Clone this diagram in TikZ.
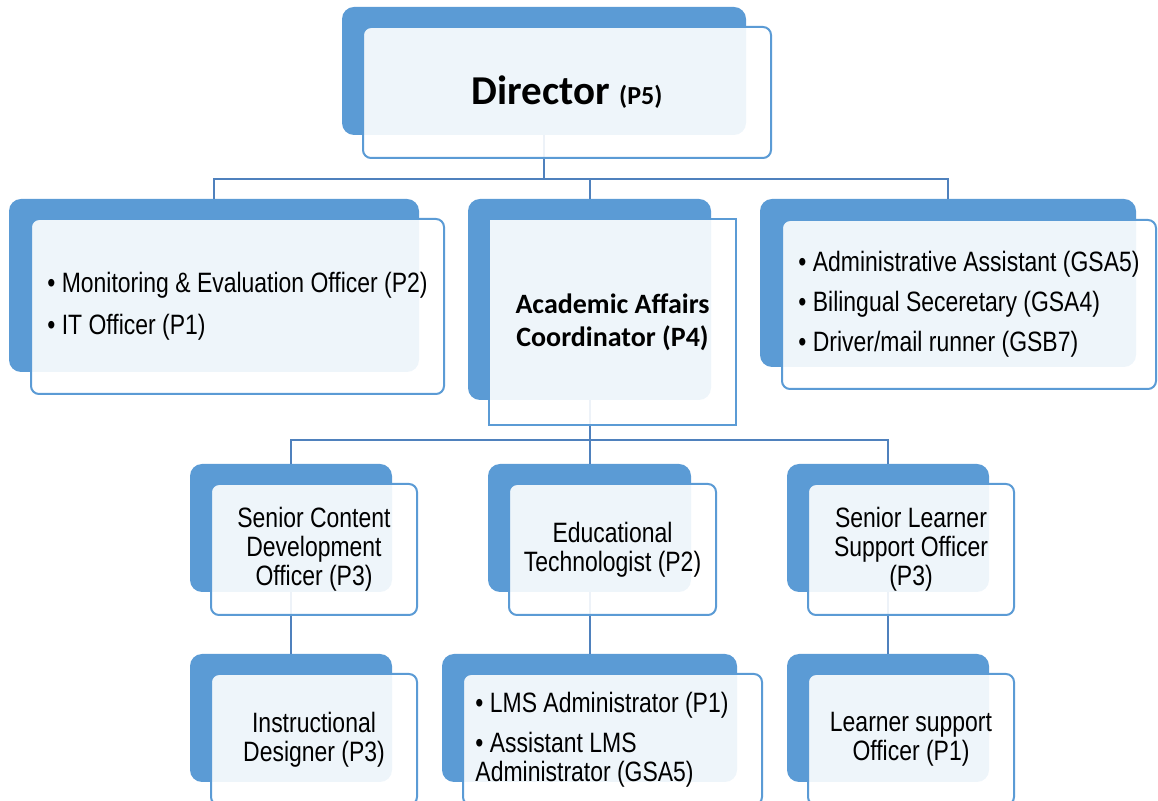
\documentclass[tikz,border=0pt]{standalone}
\usepackage{fontspec}
\setmainfont{Liberation Sans}[FakeStretch=0.82]
\newfontfamily\calib{Carlito}
\usepackage{tikz}
\usetikzlibrary{positioning}

\definecolor{boxblue}{HTML}{5B9BD5}
\definecolor{linkblue}{HTML}{4F81BD}

\tikzset{
	back/.style={rectangle,rounded corners=6pt,fill=boxblue,inner sep=0pt},
	front/.style={rectangle,rounded corners=4pt,draw=boxblue,line width=1pt,fill=white,fill opacity=0.9,text opacity=1,inner sep=0pt},
	link/.style={draw=linkblue,line width=1pt},
	upper/.style={font=\fontsize{14}{14}\selectfont},
	lower/.style={font=\fontsize{14}{14.5}\selectfont,align=center}
}

\begin{document}
\begin{tikzpicture}[x=0.5pt,y=-0.5pt]
		\useasboundingbox (0,0) rectangle (1158,801);
		\clip (0,0) rectangle (1158,801);

		%back boxes
		\node[back,minimum width=202pt,minimum height=64pt] (dirB) at (544,71) {};
		\node[back,minimum width=205pt,minimum height=86.5pt] (mneB) at (214,285.5) {};
		\node[back,minimum width=121.5pt,minimum height=100.5pt] (aacB) at (589.5,299.5) {};
		\node[back,minimum width=188pt,minimum height=84pt] (admB) at (948,283) {};
		\node[back,minimum width=101pt,minimum height=64pt] (scdB) at (291,528) {};
		\node[back,minimum width=101.5pt,minimum height=64pt] (edtB) at (589.5,528) {};
		\node[back,minimum width=101pt,minimum height=64pt] (slsB) at (888,528) {};
		\node[back,minimum width=101pt,minimum height=64pt] (insB) at (291,718) {};
		\node[back,minimum width=147.5pt,minimum height=64pt] (lmsB) at (589.5,718) {};
		\node[back,minimum width=101pt,minimum height=64pt] (lsoB) at (888,718) {};

		%links
		\draw[link] (dirB.south) -- ++(0,44) coordinate (j1) -| (mneB.north);
		\draw[link] (j1) -| (aacB.north);
		\draw[link] (j1) -| (admB.north);
		\draw[link] (aacB.south) -- ++(0,40) coordinate (j2) -| (scdB.north);
		\draw[link] (j2) -- (edtB.north);
		\draw[link] (j2) -| (slsB.north);
		\draw[link] (scdB.south) -- (insB.north);
		\draw[link] (edtB.south) -- (lmsB.north);
		\draw[link] (slsB.south) -- (lsoB.north);

		%front boxes
		\node[front,font=\calib\bfseries,minimum width=204pt,minimum height=65.5pt] (dir) at (567,92.5)
			{\fontsize{20.5}{24}\selectfont Director \fontsize{13}{15}\selectfont(P5)};
		\node[front,upper,align=left,minimum width=206.5pt,minimum height=87.5pt] (mne) at (237.5,306.5)
			{• Monitoring \& Evaluation Officer (P2)\\[7pt]• IT Officer (P1)};
		\node[front,sharp corners,align=center,font=\calib\bfseries\fontsize{14}{16.5}\selectfont,minimum width=123.5pt,minimum height=103pt] (aac) at (612.5,322)
			{Academic Affairs\\Coordinator (P4)};
		\node[front,upper,align=left,minimum width=187pt,minimum height=84.5pt] (adm) at (969,304.5)
			{• Administrative Assistant (GSA5)\\[6pt]• Bilingual Seceretary (GSA4)\\[6pt]• Driver/mail runner (GSB7)};
		\node[front,lower,minimum width=103pt,minimum height=65.5pt] (scd) at (314,549.5)
			{Senior Content\\Development\\Officer (P3)};
		\node[front,lower,minimum width=103.5pt,minimum height=65.5pt] (edt) at (612.5,549.5)
			{Educational\\Technologist (P2)};
		\node[front,lower,minimum width=103pt,minimum height=65.5pt] (sls) at (911,549.5)
			{Senior Learner\\Support Officer\\(P3)};
		\node[front,lower,minimum width=103pt,minimum height=65.5pt] (ins) at (314,739.5)
			{Instructional\\Designer (P3)};
		\node[front,minimum width=149.5pt,minimum height=65.5pt] (lms) at (612.5,739.5) {};
		\node[lower,align=left] (lmsT) at (602,740)
			{• LMS Administrator (P1)\\[5.5pt]• Assistant LMS\\Administrator (GSA5)};
		\node[front,lower,minimum width=103pt,minimum height=65.5pt] (lso) at (911,739.5)
			{Learner support\\Officer (P1)};

\end{tikzpicture}
\end{document}
